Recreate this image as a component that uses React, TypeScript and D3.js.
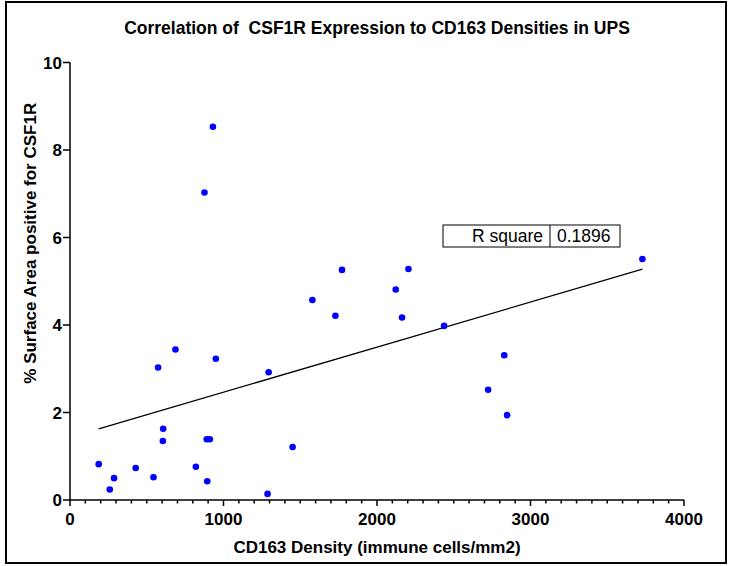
import React from "react";
import * as d3 from "d3";

// ---- Data ----
const cd163Density: number[] = [
  187, 259, 287, 428, 544, 574, 607, 605, 687, 820,
  894, 891, 911, 950, 1294, 1287, 1450, 931, 876, 1772,
  1579, 1729, 2205, 2122, 2163, 2437, 2829, 2724, 2848, 3729,
];
const csf1rArea: number[] = [
  0.82, 0.24, 0.5, 0.73, 0.52, 3.03, 1.63, 1.35, 3.44, 0.76,
  0.43, 1.39, 1.39, 3.23, 2.92, 0.14, 1.21, 8.53, 7.03, 5.26,
  4.57, 4.21, 5.28, 4.81, 4.17, 3.98, 3.31, 2.52, 1.94, 5.51,
];
const xTicks: number[] = [0, 1000, 2000, 3000, 4000];
const xMinorTicks: number[] = d3.range(0, 4001, 100);
const yTicks: number[] = [0, 2, 4, 6, 8, 10];
const statLabels: string[] = ["R square", "0.1896"];

const title = "Correlation of  CSF1R Expression to CD163 Densities in UPS";
const xTitle = "CD163 Density (immune cells/mm2)";
const yTitle = "% Surface Area positive for CSF1R";

const W = 733;
const H = 566;
const FONT = "'Liberation Sans', Arial, Helvetica, sans-serif";

export default function App() {
  const x = d3.scaleLinear().domain([0, 4000]).range([70, 684]);
  const y = d3.scaleLinear().domain([0, 10]).range([500, 62.5]);

  // least-squares regression
  const mx = d3.mean(cd163Density) as number;
  const my = d3.mean(csf1rArea) as number;
  let sxy = 0;
  let sxx = 0;
  cd163Density.forEach((v, i) => {
    sxy += (v - mx) * (csf1rArea[i] - my);
    sxx += (v - mx) * (v - mx);
  });
  const slope = sxy / sxx;
  const intercept = my - slope * mx;
  const [x0, x1] = d3.extent(cd163Density) as [number, number];
  const linePts: [number, number][] = [
    [x0, intercept + slope * x0],
    [x1, intercept + slope * x1],
  ];
  const lineGen = d3
    .line<[number, number]>()
    .x((d) => x(d[0]))
    .y((d) => y(d[1]));

  // stat box
  const boxL = 443, boxDiv = 550, boxR = 620, boxT = 225, boxB = 247;

  return (
    <svg
      width={W}
      height={H}
      style={{ position: "absolute", left: 0, top: 0, background: "#fff" }}
      fontFamily={FONT}
    >
      <rect x={0} y={0} width={W} height={H} fill="#fff" />
      <rect x={6} y={2} width={720} height={561} fill="none" stroke="#000" strokeWidth={2} />

      <text x={377} y={34} textAnchor="middle" fontWeight="bold" fontSize={17.5} style={{ whiteSpace: "pre" }}>
        {title}
      </text>

      {/* y axis */}
      <line x1={x(0)} x2={x(0)} y1={y(0)} y2={y(10)} stroke="#000" strokeWidth={1.5} />
      {yTicks.map((t) => (
        <g key={"yt" + t}>
          <line x1={x(0) - 7} x2={x(0)} y1={y(t)} y2={y(t)} stroke="#000" strokeWidth={1.5} />
          <text x={x(0) - 8} y={y(t) + 6} textAnchor="end" fontWeight="bold" fontSize={17}>
            {t}
          </text>
        </g>
      ))}

      {/* x axis */}
      <line x1={x(0)} x2={x(4000)} y1={y(0)} y2={y(0)} stroke="#000" strokeWidth={1.5} />
      {xMinorTicks.map((t) => (
        <line
          key={"xm" + t}
          x1={x(t)}
          x2={x(t)}
          y1={y(0)}
          y2={y(0) + (t % 1000 === 0 ? 6 : 3.5)}
          stroke="#000"
          strokeWidth={1.5}
        />
      ))}
      {xTicks.map((t) => (
        <text key={"xt" + t} x={x(t)} y={525} textAnchor="middle" fontWeight="bold" fontSize={17}>
          {t}
        </text>
      ))}

      <text x={377} y={553} textAnchor="middle" fontWeight="bold" fontSize={17}>
        {xTitle}
      </text>
      <text
        transform={`translate(36, ${y(5) - 38}) rotate(-90)`}
        textAnchor="middle"
        fontWeight="bold"
        fontSize={17}
      >
        {yTitle}
      </text>

      {/* regression line */}
      <path d={lineGen(linePts) as string} fill="none" stroke="#000" strokeWidth={1.3} />

      {/* points */}
      {cd163Density.map((v, i) => (
        <circle key={"p" + i} cx={x(v)} cy={y(csf1rArea[i])} r={3.3} fill="#0000ff" />
      ))}

      {/* stat table */}
      <rect x={boxL} y={boxT} width={boxR - boxL} height={boxB - boxT} fill="#fff" stroke="#000" strokeWidth={1} />
      <line x1={boxDiv} x2={boxDiv} y1={boxT} y2={boxB} stroke="#000" strokeWidth={1} />
      <text x={boxDiv - 7} y={boxB - 5} textAnchor="end" fontSize={17.5}>
        {statLabels[0]}
      </text>
      <text x={boxDiv + 7} y={boxB - 5} textAnchor="start" fontSize={17.5}>
        {statLabels[1]}
      </text>
    </svg>
  );
}
